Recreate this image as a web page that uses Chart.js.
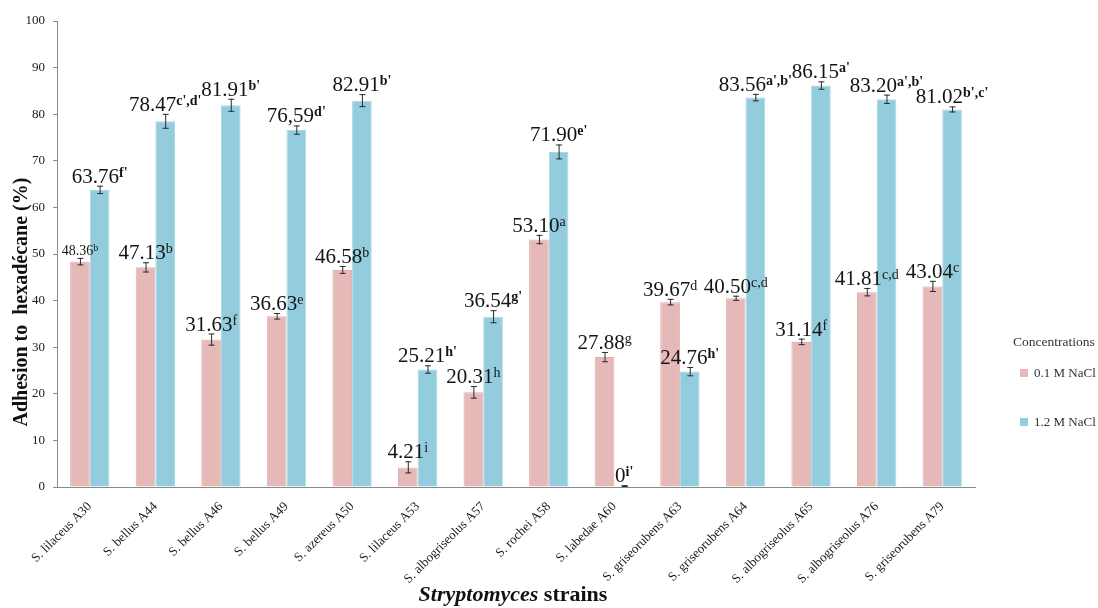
<!DOCTYPE html>
<html>
<head>
<meta charset="utf-8">
<script src="https://cdn.jsdelivr.net/npm/chart.js@4.4.1/dist/chart.umd.min.js"></script>
<style>
  html, body { margin: 0; padding: 0; background: #ffffff; }
  canvas { display: block; }
</style>
</head>
<body>
<canvas id="adhesion" width="1098" height="608"></canvas>
<script>
// Strains tested
const strains = [
  'S. lilaceus A30', 'S. bellus A44', 'S. bellus A46', 'S. bellus A49',
  'S. azereus A50', 'S. lilaceus A53', 'S. albogriseolus A57', 'S. rochei A58',
  'S. labedae A60', 'S. griseorubens A63', 'S. griseorubens A64',
  'S. albogriseolus A65', 'S. albogriseolus A76', 'S. griseorubens A79'
];

// Adhesion to hexadecane (%) at 0.1 M NaCl
const nacl01 = [48.36, 47.13, 31.63, 36.63, 46.58, 4.21, 20.31, 53.10, 27.88, 39.67, 40.50, 31.14, 41.81, 43.04];
const sd01   = [0.8, 1.1, 1.3, 0.7, 0.85, 1.3, 1.35, 1.0, 1.1, 0.7, 0.55, 0.7, 0.9, 1.2];
const text01 = ['48.36', '47.13', '31.63', '36.63', '46.58', '4.21', '20.31', '53.10', '27.88', '39.67', '40.50', '31.14', '41.81', '43.04'];
const sig01  = ['b', 'b', 'f', 'e', 'b', 'i', 'h', 'a', 'g', 'd', 'c,d', 'f', 'c,d', 'c'];

// Adhesion to hexadecane (%) at 1.2 M NaCl
const nacl12 = [63.76, 78.47, 81.91, 76.59, 82.91, 25.21, 36.54, 71.90, 0, 24.76, 83.56, 86.15, 83.20, 81.02];
const sd12   = [0.9, 1.6, 1.4, 1.0, 1.4, 0.9, 1.4, 1.6, 0.4, 1.0, 0.8, 0.9, 1.0, 0.65];
const text12 = ['63.76', '78.47', '81.91', '76,59', '82.91', '25.21', '36.54', '71.90', '0', '24.76', '83.56', '86.15', '83.20', '81.02'];
const sig12  = ["f'", "c',d'", "b'", "d'", "b'", "h'", "g'", "e'", "i'", "h'", "a',b'", "a'", "a',b'", "b',c'"];

const seriesNames = ['0.1 M NaCl', '1.2 M NaCl'];
const yTicks = [0, 10, 20, 30, 40, 50, 60, 70, 80, 90, 100];

const SERIF = "'Liberation Serif', 'Times New Roman', serif";
const PINK = '#e6b9b8';
const BLUE = '#93cddd';

// Error bars plus value labels with significance letters
const annotate = {
  id: 'annotate',
  afterDatasetsDraw(chart) {
    const ctx = chart.ctx;
    const y = chart.scales.y;
    const sets = [
      { vals: nacl01, sd: sd01, txt: text01, sig: sig01 },
      { vals: nacl12, sd: sd12, txt: text12, sig: sig12 }
    ];
    sets.forEach((s, di) => {
      const meta = chart.getDatasetMeta(di);
      meta.data.forEach((bar, i) => {
        const x = bar.x;
        const yHi = y.getPixelForValue(s.vals[i] + s.sd[i]);
        const yLo = y.getPixelForValue(Math.max(0, s.vals[i] - s.sd[i]));
        ctx.save();
        ctx.strokeStyle = '#2b2b2b';
        ctx.lineWidth = 1;
        ctx.beginPath();
        ctx.moveTo(x + 0.5, yLo); ctx.lineTo(x + 0.5, yHi);
        ctx.moveTo(x - 2.5, yHi + 0.5); ctx.lineTo(x + 3.5, yHi + 0.5);
        ctx.moveTo(x - 2.5, yLo - 0.5); ctx.lineTo(x + 3.5, yLo - 0.5);
        ctx.stroke();

        // value + superscript letters
        const small = (di === 0 && i === 0);
        const mainSize = small ? 14 : 21;
        const supSize = small ? 10 : 14;
        const primed = s.sig[i].indexOf("'") >= 0;
        const mainFont = mainSize + 'px ' + SERIF;
        const supFont = (primed ? 'bold ' : '') + supSize + 'px ' + SERIF;
        ctx.font = mainFont;
        const w1 = ctx.measureText(s.txt[i]).width;
        ctx.font = supFont;
        const w2 = ctx.measureText(s.sig[i]).width;
        const total = w1 + w2;
        const base = yHi - 3;
        const left = x - total / 2;
        ctx.fillStyle = '#141414';
        ctx.textAlign = 'left';
        ctx.textBaseline = 'alphabetic';
        ctx.font = mainFont;
        ctx.fillText(s.txt[i], left, base);
        ctx.font = supFont;
        ctx.fillText(s.sig[i], left + w1, base - (small ? 4 : 6));
        ctx.restore();
      });
    });
  },
  afterDraw(chart) {
    const ctx = chart.ctx;
    ctx.save();
    ctx.fillStyle = '#111';
    // y axis title
    ctx.translate(22, 302);
    ctx.rotate(-Math.PI / 2);
    ctx.font = 'bold 20px ' + SERIF;
    ctx.textAlign = 'center';
    ctx.textBaseline = 'middle';
    ctx.fillText('Adhesion to  hexadécane (%)', 0, 0);
    ctx.restore();

    // x axis title: italic genus + plain word
    ctx.save();
    ctx.fillStyle = '#111';
    ctx.textBaseline = 'middle';
    const f1 = 'bold italic 22px ' + SERIF;
    const f2 = 'bold 22px ' + SERIF;
    ctx.font = f1; const a = ctx.measureText('Stryptomyces').width;
    ctx.font = f2; const b = ctx.measureText(' strains').width;
    const sx = 513 - (a + b) / 2;
    ctx.font = f1; ctx.fillText('Stryptomyces', sx, 595);
    ctx.font = f2; ctx.fillText(' strains', sx + a, 595);
    ctx.restore();

    // legend
    ctx.save();
    ctx.fillStyle = '#333';
    ctx.textBaseline = 'middle';
    ctx.font = '13.5px ' + SERIF;
    ctx.fillText('Concentrations', 1013, 342);
    ctx.font = '13px ' + SERIF;
    const rows = [373, 422];
    chart.data.datasets.forEach((ds, k) => {
      ctx.fillStyle = ds.backgroundColor;
      ctx.fillRect(1020, rows[k] - 4, 8, 8);
      ctx.fillStyle = '#333';
      ctx.fillText(ds.label, 1034, rows[k] + 1);
    });
    ctx.restore();
  }
};

new Chart(document.getElementById('adhesion'), {
  type: 'bar',
  data: {
    labels: strains,
    datasets: [
      { label: seriesNames[0], data: nacl01, backgroundColor: PINK, borderColor: '#ddb0af', borderWidth: 1 },
      { label: seriesNames[1], data: nacl12, backgroundColor: BLUE, borderColor: '#a9d8e4', borderWidth: 1 }
    ]
  },
  options: {
    responsive: false,
    animation: false,
    events: [],
    layout: { padding: { left: 0, right: 123, top: 21, bottom: 0 } },
    datasets: { bar: { categoryPercentage: 0.6, barPercentage: 1.0 } },
    plugins: { legend: { display: false }, tooltip: { enabled: false } },
    scales: {
      x: {
        grid: { display: false },
        border: { display: true, color: '#8a8a8a', width: 1 },
        ticks: {
          color: '#1a1a1a',
          font: { family: SERIF, size: 13 },
          maxRotation: 45, minRotation: 45,
          autoSkip: false, padding: 4
        },
        afterFit(scale) { scale.height = 121; }
      },
      y: {
        min: 0, max: 100,
        grid: { drawOnChartArea: false, drawTicks: true, tickLength: 4, color: '#8a8a8a' },
        border: { display: true, color: '#8a8a8a', width: 1 },
        afterBuildTicks(scale) { scale.ticks = yTicks.map(v => ({ value: v })); },
        ticks: {
          color: '#1a1a1a',
          font: { family: SERIF, size: 13 },
          padding: 8
        },
        afterFit(scale) { scale.width = 57; }
      }
    }
  },
  plugins: [annotate]
});
</script>
</body>
</html>
